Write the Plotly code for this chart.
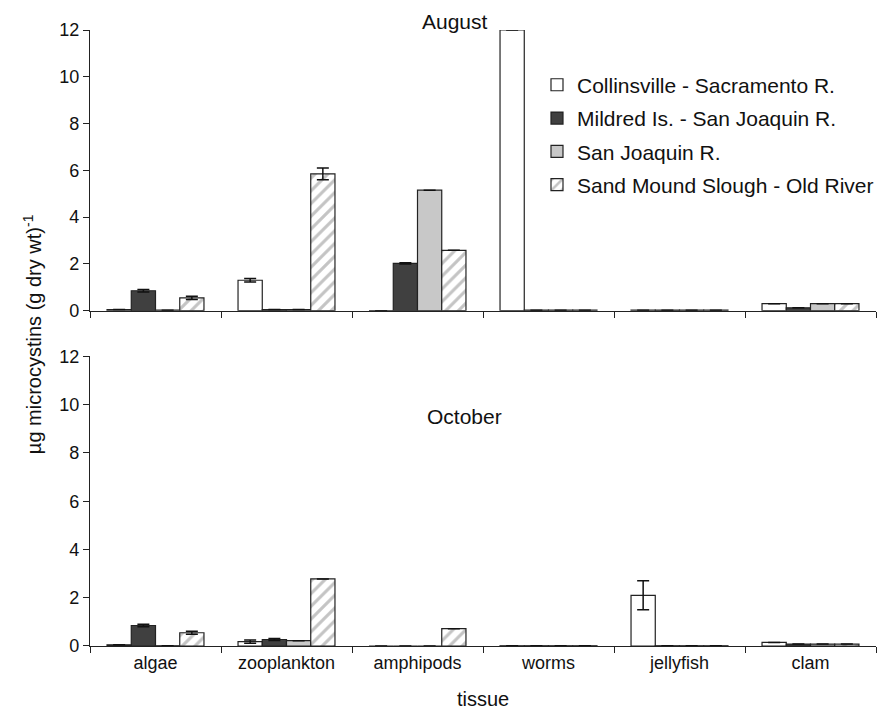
import plotly.graph_objects as go
from plotly.subplots import make_subplots

tissues = ["algae", "zooplankton", "amphipods", "worms", "jellyfish", "clam"]
series = ["Collinsville - Sacramento R.", "Mildred Is. - San Joaquin R.",
          "San Joaquin R.", "Sand Mound Slough - Old River"]

aug_vals = [
    [0.05, 1.30, 0.00, 12.00, 0.02, 0.30],
    [0.85, 0.05, 2.02, 0.02, 0.02, 0.12],
    [0.02, 0.05, 5.15, 0.02, 0.02, 0.30],
    [0.55, 5.85, 2.58, 0.02, 0.02, 0.30],
]
aug_err = [
    [0.0, 0.07, 0.0, 0.0, 0.0, 0.0],
    [0.05, 0.0, 0.03, 0.0, 0.0, 0.0],
    [0.0, 0.0, 0.0, 0.0, 0.0, 0.0],
    [0.07, 0.25, 0.0, 0.0, 0.0, 0.0],
]
oct_vals = [
    [0.05, 0.18, 0.00, 0.01, 2.10, 0.15],
    [0.85, 0.27, 0.00, 0.01, 0.01, 0.08],
    [0.01, 0.22, 0.00, 0.01, 0.01, 0.08],
    [0.55, 2.78, 0.72, 0.01, 0.01, 0.08],
]
oct_err = [
    [0.0, 0.07, 0.0, 0.0, 0.60, 0.0],
    [0.05, 0.04, 0.0, 0.0, 0.0, 0.0],
    [0.0, 0.0, 0.0, 0.0, 0.0, 0.0],
    [0.06, 0.0, 0.0, 0.0, 0.0, 0.0],
]
yticks = [0, 2, 4, 6, 8, 10, 12]

fills = ["white", "#404040", "#c8c8c8", "white"]
patterns = ["", "", "", "/"]

fig = make_subplots(rows=2, cols=1)

for row, vals, errs in [(1, aug_vals, aug_err), (2, oct_vals, oct_err)]:
    for i, name in enumerate(series):
        fig.add_trace(go.Bar(
            x=tissues, y=vals[i], name=name,
            legendgroup=name, showlegend=(row == 1),
            marker=dict(color=fills[i], line=dict(color="#222222", width=1.2),
                        pattern=dict(shape=patterns[i], fgcolor="#8a8a8a",
                                     size=9, solidity=0.35)),
            error_y=dict(type="data", array=errs[i], visible=True,
                         color="#111111", thickness=1.5, width=6),
        ), row=row, col=1)

FAM = "Liberation Sans, Arial, sans-serif"
tick_font = dict(family=FAM, size=18, color="#111")
big_font = dict(family=FAM, size=20, color="#111")
for r in (1, 2):
    fig.update_xaxes(row=r, col=1, showline=True, linecolor="#222", linewidth=1.2,
                     ticks="outside", tickson="boundaries", ticklen=6, tickcolor="#222",
                     showticklabels=(r == 2), tickfont=tick_font, showgrid=False)
    fig.update_yaxes(row=r, col=1, range=[0, 12], tickvals=yticks, showline=True,
                     linecolor="#222", linewidth=1.2, ticks="outside", ticklen=6,
                     tickcolor="#222", tickfont=tick_font, showgrid=False,
                     zeroline=False)

fig.update_yaxes(row=1, col=1, domain=[0.5444, 1.0])
fig.update_yaxes(row=2, col=1, domain=[0.0, 0.4701])
fig.update_xaxes(row=2, col=1, title=dict(text="tissue", font=big_font, standoff=20))

fig.update_layout(
    width=896, height=711,
    margin=dict(l=82, r=28, t=20, b=72),
    paper_bgcolor="white", plot_bgcolor="white",
    barmode="group", bargap=0.26, bargroupgap=0.0,
    font=tick_font,
    legend=dict(x=0.5687, y=0.9438, xanchor="left", yanchor="top",
                font=dict(size=21, family=FAM, color="#111"),
                tracegroupgap=3, bgcolor="rgba(0,0,0,0)"),
    annotations=[
        dict(text="August", x=0.464, y=1.014, xref="paper", yref="paper",
             showarrow=False, font=dict(family=FAM, size=21, color="#111"),
             yanchor="middle"),
        dict(text="October", x=0.477, y=0.373, xref="paper", yref="paper",
             showarrow=False, font=dict(family=FAM, size=21, color="#111"),
             yanchor="middle"),
        dict(text="µg microcystins (g dry wt)<sup>-1</sup>", x=-0.074, y=0.506,
             xref="paper", yref="paper", showarrow=False, textangle=-90,
             font=big_font, xanchor="center", yanchor="middle"),
    ],
)

fig.write_html("out.html")
